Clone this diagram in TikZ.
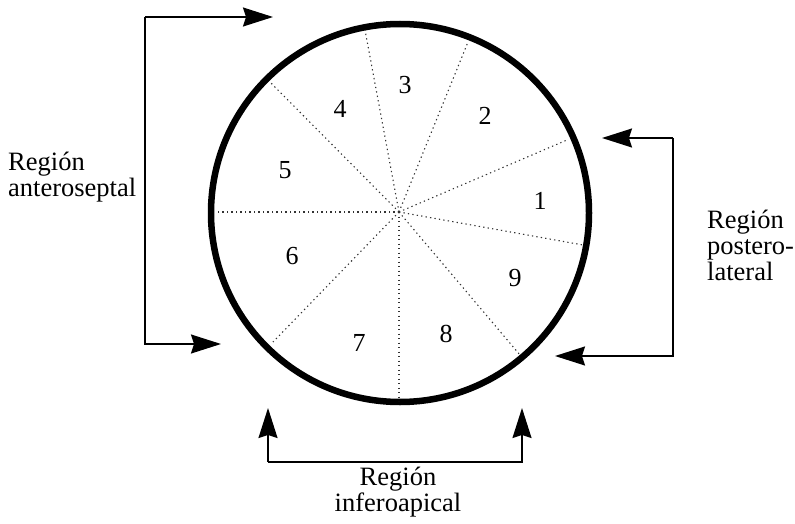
\documentclass[tikz,border=0pt]{standalone}
\usepackage{fontspec}
\setmainfont{Liberation Serif}
\usetikzlibrary{arrows.meta}
\begin{document}
\begin{tikzpicture}[x=1pt,y=-1pt,
  rim/.style={line width=6.5pt},
  spoke/.style={line width=1.1pt, black!80, dash pattern=on 1.3pt off 3.2pt},
  bracket/.style={line width=1.4pt, line join=miter,
    -{Stealth[length=30pt,width=19pt,inset=3pt]}},
  num/.style={font=\fontsize{26}{28}\selectfont, inner sep=0pt},
  lbl/.style={font=\fontsize{26.5}{26}\selectfont, inner sep=0pt}]
\useasboundingbox (0,0) rectangle (795,524);
% circle
\coordinate (c) at (400,213);
\coordinate (o) at (399,212);
\draw[rim] (c) circle[radius=189];
% spokes
\coordinate (s1) at (218,212);
\coordinate (s2) at (270,82);
\coordinate (s3) at (365,30);
\coordinate (s4) at (468,42);
\coordinate (s5) at (567,140);
\coordinate (s6) at (583,245);
\coordinate (s7) at (520,355);
\coordinate (s8) at (399,401);
\coordinate (s9) at (273,342);
\draw[spoke] (o) -- (s1);
\draw[spoke] (o) -- (s2);
\draw[spoke] (o) -- (s3);
\draw[spoke] (o) -- (s4);
\draw[spoke] (o) -- (s5);
\draw[spoke] (o) -- (s6);
\draw[spoke] (o) -- (s7);
\draw[spoke] (o) -- (s8);
\draw[spoke] (o) -- (s9);
% numbers
\node[num] (n1) at (540,201) {1};
\node[num] (n2) at (485,116) {2};
\node[num] (n3) at (405,85) {3};
\node[num] (n4) at (340,109) {4};
\node[num] (n5) at (285,170) {5};
\node[num] (n6) at (292,256) {6};
\node[num] (n7) at (359,343) {7};
\node[num] (n8) at (446,334) {8};
\node[num] (n9) at (515,278) {9};
% anteroseptal bracket
\coordinate (a1) at (273,17);
\coordinate (a2) at (145,17);
\coordinate (a3) at (145,344);
\coordinate (a4) at (221,344);
\draw[bracket] (a2) -- (a1);
\draw[bracket] (a2) -- (a3) -- (a4);
\node[lbl, anchor=base west, align=left] (la) at (8,196) {Región\\anteroseptal};
% posterolateral bracket
\coordinate (p1) at (602,138);
\coordinate (p2) at (673,138);
\coordinate (p3) at (673,356);
\coordinate (p4) at (555,356);
\draw[bracket] (p2) -- (p1);
\draw[bracket] (p2) -- (p3) -- (p4);
\node[lbl, anchor=base west, align=left] (lp) at (707,280) {Región\\postero-\\lateral};
% inferoapical bracket
\coordinate (i1) at (268,408);
\coordinate (i2) at (268,462);
\coordinate (i3) at (522,462);
\coordinate (i4) at (522,408);
\draw[bracket] (i2) -- (i1);
\draw[bracket] (i2) -- (i3) -- (i4);
\node[lbl, anchor=base, align=center] (li) at (398,511) {Región\\inferoapical};
\end{tikzpicture}
\end{document}
